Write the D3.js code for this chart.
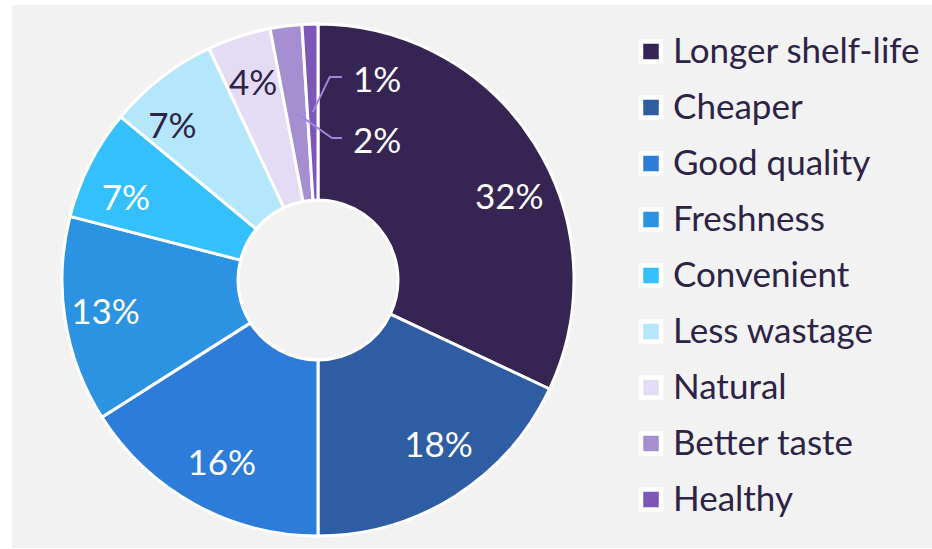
<!DOCTYPE html>
<html>
<head>
<meta charset="utf-8">
<script src="https://cdn.jsdelivr.net/npm/d3@7"></script>
<style>
  html, body { margin: 0; padding: 0; background: #ffffff; }
  svg { display: block; }
  text { font-family: Lato, "Open Sans", sans-serif; }
</style>
</head>
<body>
<svg id="chart" width="932" height="549"></svg>
<script>
// Reasons for choosing the product (share of respondents)
const categories = ["Longer shelf-life", "Cheaper", "Good quality", "Freshness",
  "Convenient", "Less wastage", "Natural", "Better taste", "Healthy"];
const shares = [32, 18, 16, 13, 7, 7, 4, 2, 1];
const colors = ["#362453", "#2f5da3", "#2e7cd9", "#2c93e3", "#33c0fd",
  "#b4e6fc", "#e4dcf5", "#a68fd1", "#7d57b8"];
// label text colour per slice (dark text on the pale slices)
const labelColors = ["#ffffff", "#ffffff", "#ffffff", "#ffffff", "#ffffff",
  "#2d2346", "#2d2346", "#ffffff", "#ffffff"];

const svg = d3.select("#chart");
const W = 932, H = 549;
const cx = 318, cy = 280, outerR = 256, innerR = 80;
const textDark = "#2d2346";

// panel background
svg.append("rect")
  .attr("x", 12).attr("y", 5)
  .attr("width", W - 12).attr("height", H - 6)
  .attr("fill", "#f2f2f2");

const pie = d3.pie().sort(null).value(d => d);
const arcs = pie(shares);
const arc = d3.arc().innerRadius(innerR).outerRadius(outerR);

const g = svg.append("g").attr("transform", `translate(${cx},${cy})`);

g.selectAll("path.slice")
  .data(arcs)
  .join("path")
  .attr("class", "slice")
  .attr("d", arc)
  .attr("fill", (d, i) => colors[i])
  .attr("stroke", "#ffffff")
  .attr("stroke-width", 3)
  .attr("stroke-linejoin", "round");

// percentage labels placed on a ring inside the slices, with small nudges
const labelArc = d3.arc().innerRadius(210).outerRadius(210);
const labelNudge = [[14, 28], [8, -14], [5, -3], [-5, -3], [-5, 11], [-17, 10], [0, 1], null, null];
const fontSize = 35;

arcs.forEach((d, i) => {
  if (labelNudge[i] === null) return;
  const [x, y] = labelArc.centroid(d);
  g.append("text")
    .attr("x", x + labelNudge[i][0])
    .attr("y", y + labelNudge[i][1])
    .attr("text-anchor", "middle")
    .attr("dominant-baseline", "central")
    .attr("font-size", fontSize)
    .attr("fill", labelColors[i])
    .text(shares[i] + "%");
});

// small slices: labels outside the thin wedges with leader lines
const leaderArc = d3.arc().innerRadius(168).outerRadius(168);
const calloutY = { 8: -203, 7: -142 };
const leaderColor = "#a184db";
[8, 7].forEach(i => {
  const [sx, sy] = leaderArc.centroid(arcs[i]);
  const ey = calloutY[i];
  g.append("polyline")
    .attr("points", [[sx, sy], [sx + 17 + (i === 7 ? 18 : 0), ey], [24, ey]].map(p => p.join(",")).join(" "))
    .attr("fill", "none")
    .attr("stroke", leaderColor)
    .attr("stroke-width", 2);
  g.append("text")
    .attr("x", 35)
    .attr("y", ey + 1)
    .attr("text-anchor", "start")
    .attr("dominant-baseline", "central")
    .attr("font-size", fontSize)
    .attr("fill", labelColors[i])
    .text(shares[i] + "%");
});

// legend
const legendX = 651, legendY0 = 51.5, legendStep = 56;
const legend = svg.append("g");
categories.forEach((c, i) => {
  const y = legendY0 + i * legendStep;
  legend.append("rect")
    .attr("x", legendX - 10).attr("y", y - 10)
    .attr("width", 20).attr("height", 20)
    .attr("fill", colors[i])
    .attr("stroke", "#ffffff")
    .attr("stroke-width", 4.5);
  legend.append("text")
    .attr("x", 673)
    .attr("y", y - 3)
    .attr("dominant-baseline", "central")
    .attr("font-size", fontSize)
    .attr("fill", textDark)
    .text(c);
});
</script>
</body>
</html>
